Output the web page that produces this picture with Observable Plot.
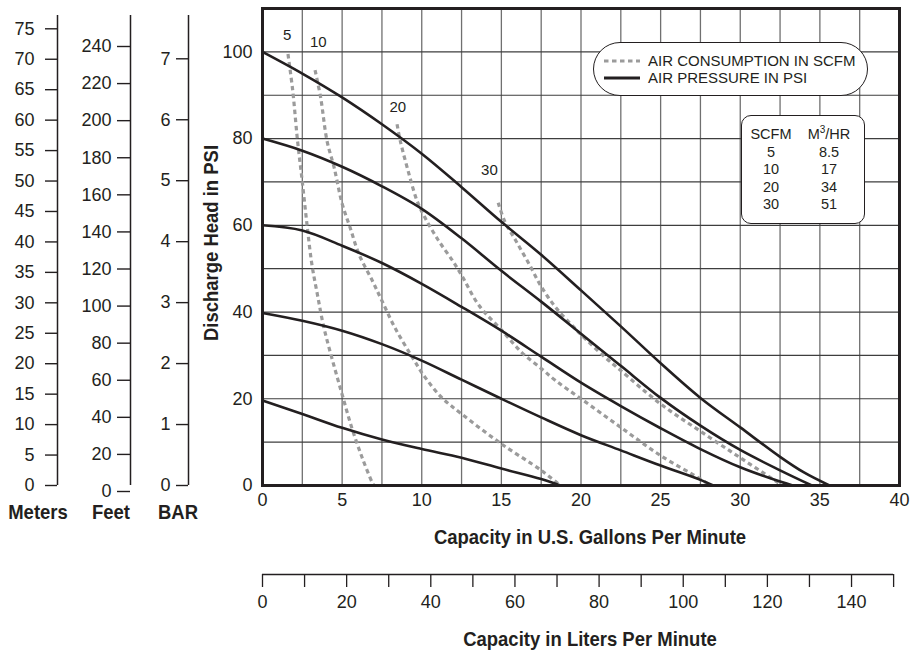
<!DOCTYPE html>
<html><head><meta charset="utf-8">
<script src="https://cdn.jsdelivr.net/npm/d3@7"></script>
<script src="https://cdn.jsdelivr.net/npm/@observablehq/plot@0.6"></script>
<style>
body{margin:0;background:#fff;}
#wrap{position:relative;width:913px;height:650px;overflow:hidden;font-family:"Liberation Sans",Arial,sans-serif;color:#231f20;}
#wrap svg{position:absolute;top:0;left:0;}
.title{position:absolute;font-family:"Liberation Sans",Arial,sans-serif;font-weight:bold;font-size:21px;white-space:nowrap;transform:translate(-50%,-50%) scaleX(0.88);color:#231f20;}
.box{position:absolute;background:#fff;border:1.5px solid #231f20;box-sizing:border-box;font-size:15px;color:#231f20;}
.legrow{position:absolute;left:8px;display:flex;align-items:center;white-space:nowrap;}
.tbl{position:absolute;text-align:center;font-size:14.5px;line-height:17.5px;}
</style></head><body><div id="wrap"></div>
<script>
// ---------- data ----------
const gpmTicks = [0, 5, 10, 15, 20, 25, 30, 35, 40];
const psiTicks = [0, 20, 40, 60, 80, 100];
const gridGpm = [0, 2.5, 5, 7.5, 10, 12.5, 15, 17.5, 20, 22.5, 25, 27.5, 30, 32.5, 35, 37.5, 40];
const gridPsi = [0, 10, 20, 30, 40, 50, 60, 70, 80, 90, 100, 110];
const meterTicks = [0, 5, 10, 15, 20, 25, 30, 35, 40, 45, 50, 55, 60, 65, 70, 75];
const feetTicks = [0, 20, 40, 60, 80, 100, 120, 140, 160, 180, 200, 220, 240];
const barTicks = [0, 1, 2, 3, 4, 5, 6, 7];
const literTicks = [0, 10, 20, 30, 40, 50, 60, 70, 80, 90, 100, 110, 120, 130, 140, 150];
const literLabels = [0, 20, 40, 60, 80, 100, 120, 140];
const litersPerGallon = 3.785;

// air pressure curves (psi), points [gpm, discharge psi]
const pressureLevels = [100, 80, 60, 40, 20];
const psi100 = [[0,100],[2.5,95],[5,89.5],[7.5,83.3],[10,76.5],[12.5,68.8],[15,60.8],[17.5,53.2],[20,45],[22.5,36.7],[25,28.2],[27.5,20.2],[30,13.4],[32.5,6.6],[34,3],[35.6,0]];
const psi80  = [[0,80],[2.5,77.2],[5,73.5],[7.5,69],[10,63.8],[12.5,57],[15,49.5],[17.5,42.4],[20,35],[22.5,27.6],[25,20.2],[27.5,13.8],[30,8.2],[32.5,3.5],[34.5,0]];
const psi60  = [[0,60],[2.5,58.8],[5,55.3],[7.5,51.3],[10,46.5],[12.5,41.2],[15,35.7],[17.5,29.7],[20,23.7],[22.5,18.3],[25,13.2],[27.5,8.4],[30,4.2],[32.5,0.9],[33.3,0]];
const psi40  = [[0,39.8],[2.5,38],[5,35.7],[7.5,32.6],[10,28.8],[12.5,24.4],[15,20],[17.5,15.7],[20,11.6],[22.5,8.1],[25,4.6],[27.5,1.3],[28.3,0]];
const psi20  = [[0,19.6],[2.5,16.5],[5,13.3],[7.5,10.6],[10,8.4],[12.5,6.4],[15,3.9],[17.5,1.5],[18.7,0]];

// air consumption curves (scfm)
const scfmLevels = [5, 10, 20, 30];
const scfm5  = [[1.6,99.5],[1.9,91],[2.2,79.5],[2.5,70],[2.8,60],[3.1,51],[3.45,44],[3.85,36.5],[4.4,28.8],[5,21],[5.6,13.4],[6.25,6.5],[6.9,0.6],[7,0]];
const scfm10 = [[3.3,95.8],[3.65,89.5],[4.05,79.5],[4.5,73.3],[5,65],[5.5,59.5],[6.05,53.4],[6.9,47.2],[7.5,42.6],[8.3,36.5],[9.4,29.6],[10.2,25],[11.25,20.3],[12.5,16.5],[15,9.6],[17.5,3.5],[18.6,0.3]];
const scfm20 = [[8.45,83.3],[8.65,79.5],[9.2,71.8],[9.7,65.7],[10.2,61.8],[11.05,56.5],[12,51.5],[12.5,48.5],[13.6,41.5],[15,35.9],[16.3,30.6],[17.5,27],[18.4,24.2],[20,20],[22.5,13.4],[25,6.9],[27.5,1.5],[28,0.3]];
const scfm30 = [[14.8,65.2],[15.2,61],[15.9,56.5],[16.75,51],[17.5,45.9],[18.4,41.1],[19.55,36.5],[20,34.8],[21.5,29.6],[22.5,26.5],[25,18.8],[27.5,12.5],[30,6.4],[32.4,0.6]];

// curve labels (anchor in gpm / psi)
const curveLabels = ["5", "10", "20", "30"];
const labelGpm = [1.55, 3.5, 8.5, 14.25];
const labelPsi = [103.8, 102.2, 87.2, 72.6];

// conversion table
const tableScfm = ["5", "10", "20", "30"];
const tableM3hr = ["8.5", "17", "34", "51"];

// ---------- build tables ----------
const pressureRows = [psi100, psi80, psi60, psi40, psi20].flatMap((pts, i) =>
  pts.map(([gpm, psi]) => ({set: pressureLevels[i], gpm, psi})));
const airRows = [scfm5, scfm10, scfm20, scfm30].flatMap((pts, i) =>
  pts.map(([gpm, psi]) => ({set: scfmLevels[i], gpm, psi})));
const labelRows = curveLabels.map((t, i) => ({t, gpm: labelGpm[i], psi: labelPsi[i]}));

const wrap = document.getElementById("wrap");
const ink = "#231f20";
const airGray = "#9b9b9b";
const airDash = "4.5,3.5";
const baseStyle = {fontFamily: "'Liberation Sans', Arial, sans-serif", fontSize: "18px", color: ink, background: "transparent", overflow: "visible"};
const fmt = d => String(d);

// ---------- main chart ----------
const main = Plot.plot({
  width: 913, height: 650,
  marginLeft: 262, marginRight: 14, marginTop: 8, marginBottom: 165,
  style: baseStyle,
  x: {domain: [0, 40]},
  y: {domain: [0, 110]},
  marks: [
    Plot.ruleX(gridGpm, {stroke: "#707070", strokeWidth: 1.3}),
    Plot.ruleY(gridPsi, {stroke: "#3e3e3e", strokeWidth: 1.2}),
    Plot.line(airRows, {x: "gpm", y: "psi", z: "set", stroke: airGray, strokeWidth: 3.2, strokeDasharray: airDash, strokeLinecap: "butt", curve: "catmull-rom"}),
    Plot.line(pressureRows, {x: "gpm", y: "psi", z: "set", stroke: ink, strokeWidth: 2.6, curve: "catmull-rom"}),
    Plot.text(labelRows, {x: "gpm", y: "psi", text: "t", fontSize: 15, fill: ink}),
    Plot.frame({stroke: ink, strokeWidth: 3}),
    Plot.axisX(gpmTicks, {tickSize: 0, tickPadding: 8, label: null, fontSize: 18, tickFormat: fmt}),
    Plot.axisY(psiTicks, {tickSize: 0, tickPadding: 10, label: null, fontSize: 18, tickFormat: fmt})
  ]
});
main.querySelectorAll(`[stroke="${airGray}"]`).forEach(el => {
  el.setAttribute("stroke-dasharray", airDash);
  el.setAttribute("stroke-linecap", "butt");
  el.setAttribute("stroke-linejoin", "miter");
  el.querySelectorAll("path").forEach(p => { p.setAttribute("stroke-dasharray", airDash); p.style.strokeDasharray = airDash; });
});
wrap.appendChild(main);

// ---------- left unit axes ----------
function sideAxis(ticks, yTopPx, lineX, tickSize, pad, dy) {
  const svg = Plot.plot({
    width: lineX + 3, height: 650,
    marginLeft: lineX, marginRight: 3, marginTop: 15, marginBottom: 165,
    style: baseStyle,
    x: {domain: [0, 1], axis: null},
    y: {domain: [0, ticks[ticks.length - 1]], range: [485, yTopPx], axis: null},
    marks: [
      Plot.ruleX([0], {stroke: ink, strokeWidth: 1.5}),
      Plot.axisY(ticks, {anchor: "left", tickSize, tickPadding: pad, dy, label: null, strokeWidth: 1.4, fontSize: 18, tickFormat: fmt})
    ]
  });
  wrap.appendChild(svg);
}
sideAxis(meterTicks, 28.3, 57, 12, 11, 0);
sideAxis(feetTicks, 40, 130, 13, 6, 6);
sideAxis(barTicks, 58.3, 188, 12, 6, 0);

// ---------- liters axis ----------
const liters = Plot.plot({
  width: 913, height: 70,
  marginLeft: 262, marginRight: 14, marginTop: 13, marginBottom: 56,
  style: baseStyle,
  x: {domain: [0, 40 * litersPerGallon]},
  y: {domain: [0, 1], axis: null},
  marks: [
    Plot.ruleY([0], {x1: literTicks[0], x2: literTicks[literTicks.length - 1], stroke: ink, strokeWidth: 1.4}),
    Plot.axisX(literTicks, {anchor: "bottom", tickSize: 13, tickFormat: () => "", label: null, strokeWidth: 1.3}),
    Plot.axisX(literLabels, {anchor: "bottom", tickSize: 0, tickPadding: 21, label: null, fontSize: 18, tickFormat: fmt})
  ]
});
liters.style.top = "560px";
wrap.appendChild(liters);

// ---------- titles ----------
function title(text, x, y, rot) {
  const d = document.createElement("div");
  d.className = "title";
  d.textContent = text;
  d.style.left = x + "px"; d.style.top = y + "px";
  if (rot) d.style.transform = "translate(-50%,-50%) rotate(-90deg) scaleX(0.88)";
  wrap.appendChild(d);
}
title("Meters", 38, 512);
title("Feet", 111, 512);
title("BAR", 178, 512);
title("Discharge Head in PSI", 211, 243, true);
title("Capacity in U.S. Gallons Per Minute", 590, 537);
title("Capacity in Liters Per Minute", 590, 639);

// ---------- legend ----------
const leg = document.createElement("div");
leg.className = "box";
Object.assign(leg.style, {left: "593px", top: "42px", width: "275px", height: "54px", borderRadius: "27px"});
leg.innerHTML =
  `<div class="legrow" style="top:9px"><svg width="40" height="8" style="position:static"><line x1="2" x2="38" y1="4" y2="4" stroke="${airGray}" stroke-width="3.2" stroke-dasharray="${airDash}"/></svg><span style="margin-left:6px">AIR CONSUMPTION IN SCFM</span></div>` +
  `<div class="legrow" style="top:26px"><svg width="40" height="8" style="position:static"><line x1="2" x2="38" y1="4" y2="4" stroke="${ink}" stroke-width="3"/></svg><span style="margin-left:6px">AIR PRESSURE IN PSI</span></div>`;
wrap.appendChild(leg);

// ---------- conversion table ----------
const tb = document.createElement("div");
tb.className = "box";
Object.assign(tb.style, {left: "741px", top: "115px", width: "124px", height: "109px", borderRadius: "10px"});
const col1 = ["SCFM", ...tableScfm].join("<br>");
const col2 = ["M<sup style='font-size:10px;line-height:0'>3</sup>/HR", ...tableM3hr].join("<br>");
tb.innerHTML = `<div class="tbl" style="left:0;width:58px;top:10px">${col1}</div><div class="tbl" style="left:58px;width:58px;top:10px">${col2}</div>`;
wrap.appendChild(tb);
</script></body></html>
